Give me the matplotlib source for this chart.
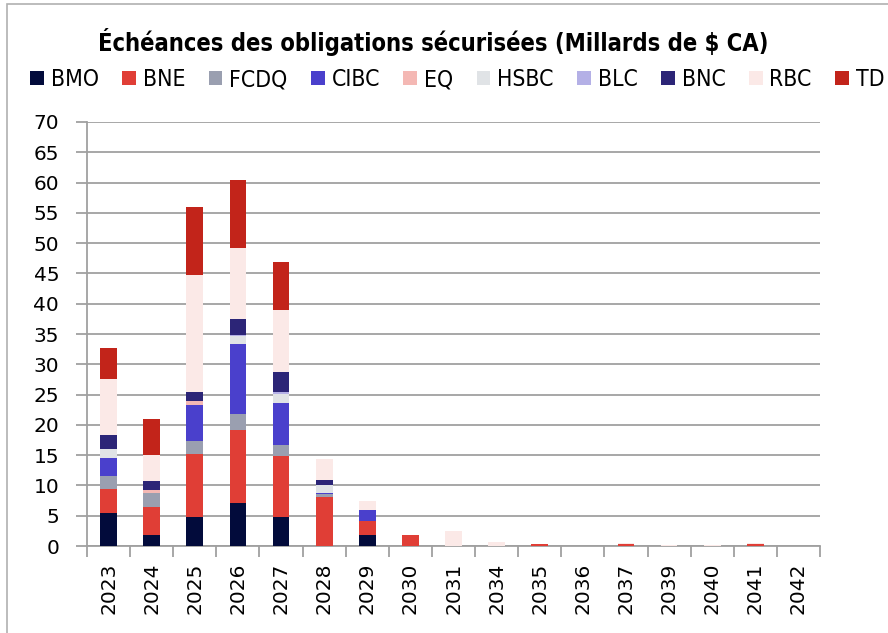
import matplotlib.pyplot as plt
from matplotlib.patches import Rectangle
import numpy as np

# categories (years)
years = ['2023', '2024', '2025', '2026', '2027', '2028', '2029', '2030', '2031',
         '2034', '2035', '2036', '2037', '2039', '2040', '2041', '2042']

banks = ['BMO', 'BNE', 'FCDQ', 'CIBC', 'EQ', 'HSBC', 'BLC', 'BNC', 'RBC', 'TD']

bmo = [5.4, 1.9, 4.8, 7.1, 4.8, 0, 1.75, 0, 0, 0, 0, 0, 0, 0, 0, 0, 0]
bne = [4.0, 4.6, 10.4, 12.0, 10.0, 8.1, 2.4, 1.75, 0, 0, 0.35, 0, 0.35, 0, 0, 0.35, 0]
fcdq = [2.2, 2.2, 2.1, 2.7, 1.8, 0.55, 0, 0, 0, 0, 0, 0, 0, 0, 0, 0, 0]
cibc = [3.0, 0, 5.9, 11.6, 7.0, 0.15, 1.75, 0, 0, 0, 0, 0, 0, 0, 0, 0, 0]
eq = [0, 0.55, 0.8, 0, 0, 0, 0, 0, 0, 0, 0, 0, 0, 0, 0, 0, 0]
hsbc = [1.4, 0, 0, 1.3, 1.5, 1.3, 0, 0, 0, 0, 0, 0, 0, 0, 0, 0, 0]
blc = [0, 0, 0, 0.2, 0.3, 0, 0, 0, 0, 0, 0, 0, 0, 0, 0, 0, 0]
bnc = [2.3, 1.5, 1.5, 2.5, 3.3, 0.8, 0, 0, 0, 0, 0, 0, 0, 0, 0, 0, 0]
rbc = [9.3, 4.3, 19.3, 11.8, 10.3, 3.5, 1.5, 0, 2.5, 0.6, 0, 0, 0.1, 0.25, 0.1, 0.15, 0.05]
td = [5.05, 6.0, 11.2, 11.3, 7.9, 0, 0, 0, 0, 0, 0, 0, 0, 0, 0, 0, 0]

series = [bmo, bne, fcdq, cibc, eq, hsbc, blc, bnc, rbc, td]
colors = ['#020b3b', '#e03e36', '#9a9fb0', '#4a40cc', '#f4b8b4',
          '#e0e3e6', '#b4b0e6', '#2c2577', '#fbe9e7', '#c2241a']

fig = plt.figure(figsize=(8.88, 6.33), dpi=100)
ax = fig.add_axes([0.098, 0.1374, 0.8254, 0.6699])

x = np.arange(len(years))
bottom = np.zeros(len(years))
for name, vals, col in zip(banks, series, colors):
    vals = np.array(vals)
    ax.bar(x, vals, bottom=bottom, width=0.39, color=col, label=name,
           linewidth=0, zorder=3)
    bottom += vals

ax.set_xlim(-0.5, len(years) - 0.5)
ax.set_ylim(0, 70)
ax.set_yticks(range(0, 71, 5))
ax.set_xticks(x)
ax.set_xticklabels(years, rotation=90, fontsize=14.5)
ax.set_xticks(np.arange(-0.5, len(years), 1), minor=True)
ax.tick_params(axis='x', which='major', length=0, pad=12)
ax.tick_params(axis='x', which='minor', length=8, width=1.3, color='#a0a0a0', direction='out')
ax.tick_params(axis='y', length=8, width=1.3, color='#a0a0a0', labelsize=14.5, pad=12)
ax.grid(axis='y', color='#a0a0a0', linewidth=1.3, zorder=0)
ax.set_axisbelow(True)
for s in ['top', 'right']:
    ax.spines[s].set_visible(False)
for s in ['left', 'bottom']:
    ax.spines[s].set_color('#a0a0a0')
    ax.spines[s].set_linewidth(1.3)

fig.text(0.488, 0.933, 'Échéances des obligations sécurisées (Millards de $ CA)',
         ha='center', va='center', fontsize=17, fontweight='bold',
         family='DejaVu Sans', fontstretch='condensed')

fig.legend(loc='center', bbox_to_anchor=(0.515, 0.874), ncol=10, frameon=False,
           handlelength=0.6, handleheight=0.6, handletextpad=0.3, columnspacing=1.02,
           prop={'family': 'DejaVu Sans', 'stretch': 'condensed', 'size': 16.5})

# outer chart frame
fig.patches.append(Rectangle((0.008, -0.01), 1.2, 1.004, transform=fig.transFigure,
                             fill=False, edgecolor='#b0b0b0', linewidth=1.2))

fig.savefig('out.png', dpi=100)
